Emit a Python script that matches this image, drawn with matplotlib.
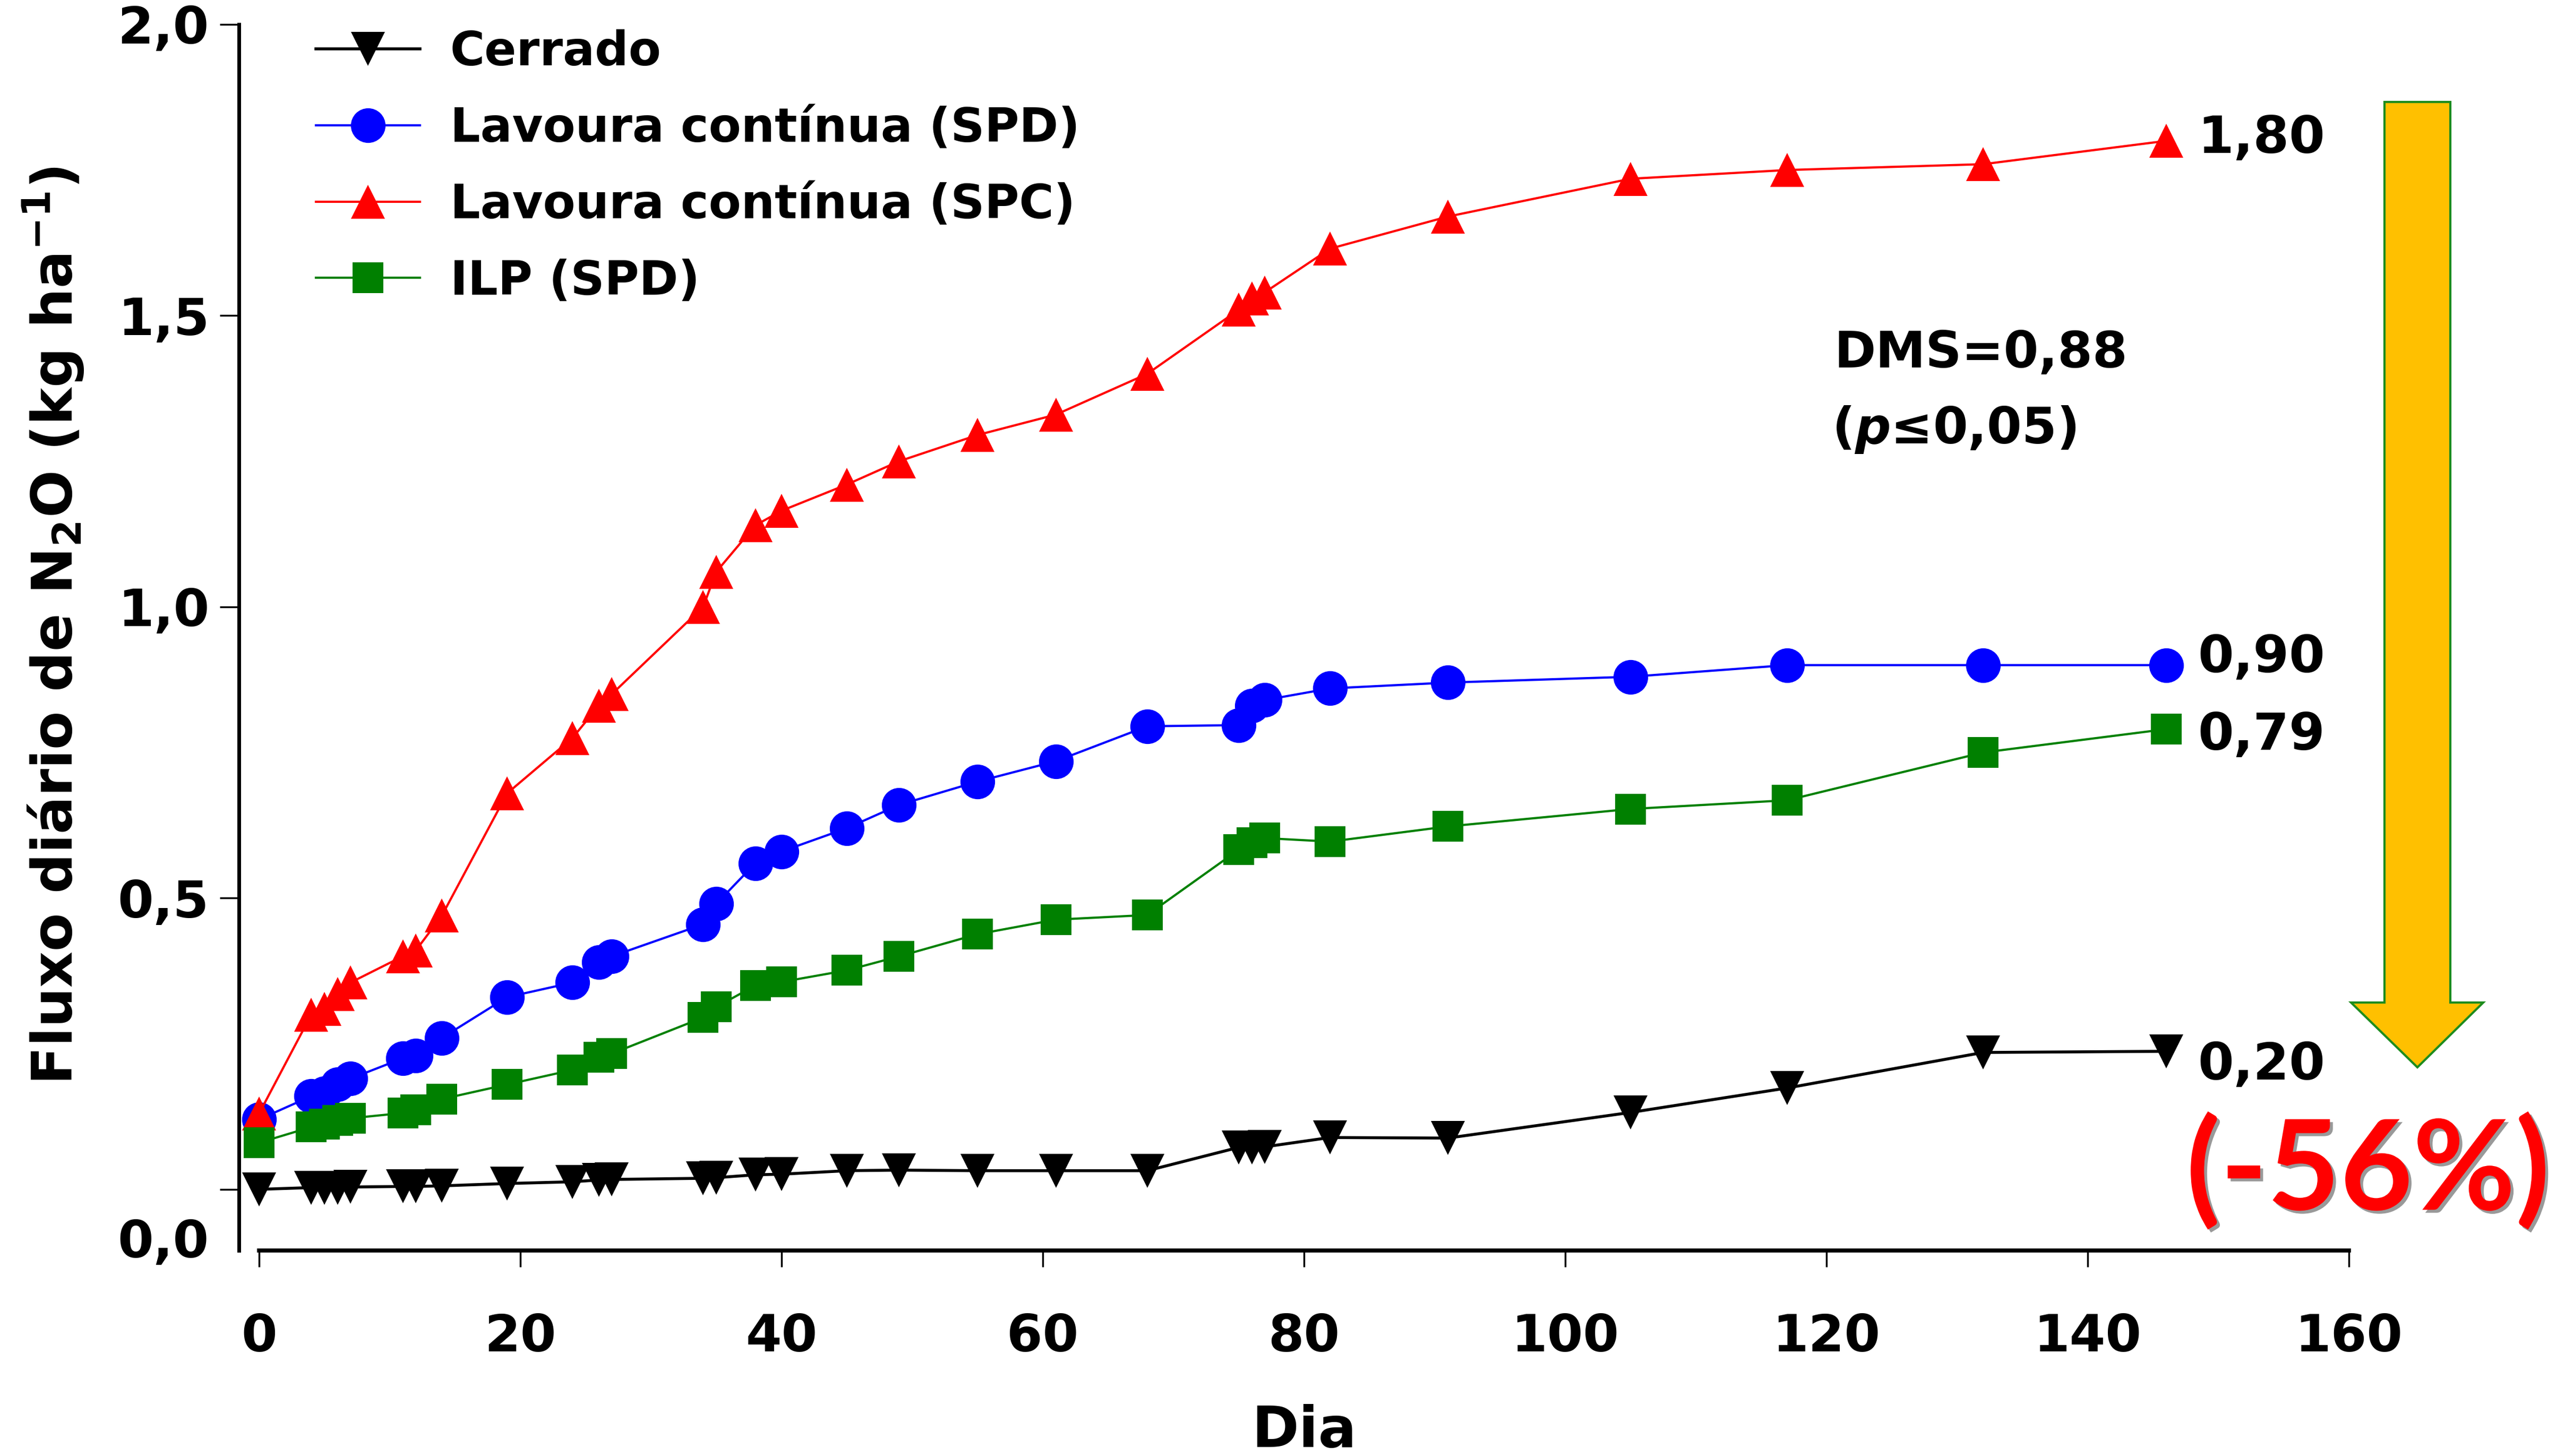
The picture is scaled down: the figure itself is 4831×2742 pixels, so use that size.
import matplotlib
matplotlib.use('Agg')
import matplotlib.pyplot as plt
import matplotlib.patheffects as pe
from matplotlib.patches import Polygon

plt.rcParams['font.family'] = ['DejaVu Sans']
plt.rcParams['font.weight'] = 'bold'
plt.rcParams['axes.labelweight'] = 'bold'
plt.rcParams['mathtext.fontset'] = 'custom'
plt.rcParams['mathtext.rm'] = 'DejaVu Sans:bold'
plt.rcParams['mathtext.it'] = 'DejaVu Sans:italic:bold'
plt.rcParams['mathtext.bf'] = 'DejaVu Sans:bold'

# sampling days
dias = [0, 4, 5, 6, 7, 11, 12, 14, 19, 24, 26, 27, 34, 35, 38, 40, 45, 49,
        55, 61, 68, 75, 76, 77, 82, 91, 105, 117, 132, 146]

# cumulative N2O (kg/ha)
cerrado = [0.0, 0.003, 0.003, 0.003, 0.004, 0.005, 0.005, 0.006, 0.010, 0.013,
           0.016, 0.017, 0.019, 0.020, 0.025, 0.026, 0.032, 0.033, 0.032, 0.032,
           0.032, 0.072, 0.072, 0.073, 0.089, 0.088, 0.132, 0.174, 0.235, 0.237]
lav_spd = [0.12, 0.16, 0.165, 0.18, 0.19, 0.225, 0.23, 0.26, 0.33, 0.355,
           0.39, 0.40, 0.455, 0.49, 0.56, 0.58, 0.62, 0.66, 0.70, 0.735,
           0.795, 0.797, 0.83, 0.84, 0.86, 0.87, 0.88, 0.90, 0.90, 0.90]
lav_spc = [0.13, 0.30, 0.31, 0.335, 0.355, 0.40, 0.41, 0.47, 0.68, 0.775,
           0.83, 0.85, 1.00, 1.06, 1.14, 1.165, 1.21, 1.25, 1.295, 1.33,
           1.40, 1.51, 1.53, 1.54, 1.615, 1.67, 1.735, 1.75, 1.76, 1.80]
ilp_spd = [0.08, 0.107, 0.112, 0.118, 0.122, 0.131, 0.137, 0.155, 0.18, 0.205,
           0.227, 0.233, 0.295, 0.313, 0.35, 0.356, 0.376, 0.40, 0.438, 0.463,
           0.471, 0.583, 0.595, 0.603, 0.597, 0.623, 0.653, 0.668, 0.75, 0.79]

nomes = ['Cerrado', 'Lavoura contínua (SPD)', 'Lavoura contínua (SPC)', 'ILP (SPD)']
rotulos_finais = ['0,20', '0,90', '1,80', '0,79']
y_ticks = [0, 0.5, 1.0, 1.5, 2.0]
y_ticklabels = ['', '0,5', '1,0', '1,5', '2,0']
x_ticks = [0, 20, 40, 60, 80, 100, 120, 140, 160]

fig = plt.figure(figsize=(48.31, 27.42), dpi=100)
ax = fig.add_axes([0.09305, 0.14114, 0.8227, 0.8421])

estilos = [
    dict(color='black', marker='v', ms=46, lw=4.0),
    dict(color='#0000FF', marker='o', ms=47, lw=3.0),
    dict(color='#FF0000', marker='^', ms=46, lw=3.0),
    dict(color='#008000', marker='s', ms=42, lw=3.0),
]
series = [cerrado, lav_spd, lav_spc, ilp_spd]
# vertical offset (points) of each end label
label_dy = [-38, -10, -16, -28]

for vals, nome, st, rot, dy in zip(series, nomes, estilos, rotulos_finais, label_dy):
    ax.plot(dias, vals, color=st['color'], marker=st['marker'], markersize=st['ms'],
            linewidth=st['lw'], markeredgewidth=0, label=nome, clip_on=False)
    ax.annotate(rot, xy=(dias[-1], vals[-1]), xytext=(43, dy), textcoords='offset points',
                ha='left', va='baseline', fontsize=70)

ax.set_xlim(-1.56, 160)
ax.set_ylim(-0.105, 2.0)

for s in ['top', 'right']:
    ax.spines[s].set_visible(False)
ax.spines['left'].set_linewidth(5)
ax.spines['bottom'].set_linewidth(5.5)
ax.spines['bottom'].set_bounds(0, 160)

ax.set_xticks(x_ticks)
ax.set_xticklabels([str(t) for t in x_ticks])
ax.set_yticks(y_ticks)
ax.set_yticklabels(y_ticklabels)
ax.set_yticks([-0.084], labels=['0,0'], minor=True)
ax.tick_params(axis='x', length=22, width=2.5, pad=62, labelsize=70)
ax.tick_params(axis='y', which='major', length=26, width=2.5, pad=14, labelsize=70)
ax.tick_params(axis='y', which='minor', length=0, pad=40, labelsize=70)

ax.set_xlabel('Dia', fontsize=77, fontweight='bold')
ax.xaxis.set_label_coords(0.5048, -0.125)
ax.text(-0.0878, 0.5097, r'Fluxo diário de N$_2$O (kg ha$^{-1}$)', rotation=90,
        transform=ax.transAxes, ha='center', va='center', fontsize=76)

ax.legend(loc='upper left', bbox_to_anchor=(0.1232, 0.980), bbox_transform=fig.transFigure,
          frameon=False, fontsize=64, handlelength=2.2, handletextpad=0.64,
          labelspacing=0.64, borderpad=0, borderaxespad=0)

ax.text(120.6, 1.411, 'DMS=0,88', fontsize=68, va='baseline')
ax.text(120.4, 1.281, '($p$≤0,05)', fontsize=68, va='baseline')

# big down arrow at the right (figure fractions)
W, H = 4831.0, 2742.0
seta = [(4491, 192), (4615, 192), (4615, 1888), (4677, 1888), (4553, 2010),
        (4428, 1888), (4491, 1888)]
seta = [(x / W, 1 - y / H) for x, y in seta]
fig.add_artist(Polygon(seta, closed=True, transform=fig.transFigure,
                       facecolor='#FFC000', edgecolor='#1E8C1E', linewidth=3))

fig.text(0.9232, 0.1951, '(-56%)', color='#FF0000', fontsize=170, family='Lato',
         weight='bold', ha='center', va='center',
         path_effects=[pe.withSimplePatchShadow(offset=(4, -4), shadow_rgbFace='#555555', alpha=0.6)])

fig.savefig('out.png', dpi=100, facecolor='white')
